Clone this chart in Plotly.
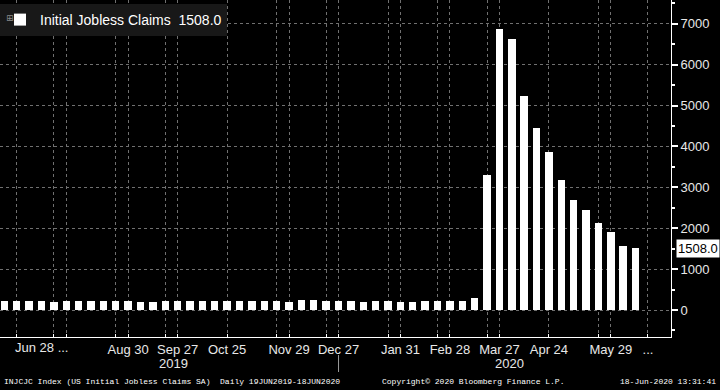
import plotly.graph_objects as go
import pandas as pd

# Weekly initial jobless claims (thousands), bars dated on Fridays
start_date = "2019-06-21"
claims = [227, 221, 209, 216, 206, 215, 209, 220, 209, 215,
          217, 204, 208, 213, 219, 210, 214, 212, 218, 211,
          225, 227, 213, 203, 252, 234, 222, 220, 212, 207,
          223, 216, 201, 206, 211, 219, 216, 211, 282, 3307,
          6867, 6615, 5237, 4442, 3867, 3176, 2687, 2446, 2123, 1897,
          1566, 1508]
dates = pd.date_range(start_date, periods=len(claims), freq="7D")

grid_dates = ["2019-06-28", "2019-07-19", "2019-07-26", "2019-08-23", "2019-08-30",
              "2019-09-20", "2019-09-27", "2019-10-25", "2019-11-22", "2019-11-29",
              "2019-12-20", "2019-12-27", "2020-01-24", "2020-01-31", "2020-02-21",
              "2020-02-28", "2020-03-20", "2020-03-27", "2020-04-24", "2020-05-22",
              "2020-05-29", "2020-06-19"]
grid_labels = ["", "", "", "", "Aug 30",
               "", "Sep 27", "Oct 25", "", "Nov 29",
               "", "Dec 27", "", "Jan 31", "",
               "Feb 28", "", "Mar 27", "Apr 24", "",
               "May 29", "..."]
first_label = "Jun 28 ..."
first_label_date = "2019-06-28"
year_labels = ["2019", "2020"]
x_range = ["2019-06-18 13:00", "2020-07-02 01:00"]
year_sep_date = "2019-12-27"
y_range = [-660, 7580]
last_value = claims[-1]

TXT = "#e8e8e8"
GRID = "#707070"
FONT = "Liberation Sans"
MONO = "Liberation Mono"
PLOT_H = 337

fig = go.Figure()
fig.add_trace(go.Bar(
    x=dates, y=claims,
    width=4.2 * 86400000,
    marker=dict(color="white", line=dict(width=0)),
    name=f"Initial Jobless Claims\u00a0\u00a0{last_value:.1f}",
    showlegend=True,
))

# year labels centred in each year's span of the range
r0 = pd.Timestamp(x_range[0]); r1 = pd.Timestamp(x_range[1])
yb = pd.Timestamp("2020-01-01")
mids = [r0 + (yb - r0) / 2, yb + (r1 - yb) / 2]

annotations = []
for lab, m in zip(year_labels, mids):
    annotations.append(dict(x=m, xref="x", y=-26 / PLOT_H, yref="paper", text=lab,
                            showarrow=False, xanchor="center", yanchor="middle",
                            font=dict(family=FONT, size=13, color=TXT)))
annotations.append(dict(x=first_label_date, xref="x", xshift=25, y=-11 / PLOT_H, yref="paper",
                        text=first_label, showarrow=False, xanchor="center", yanchor="middle",
                        font=dict(family=FONT, size=13, color=TXT)))
annotations.append(dict(x=1, xref="paper", xshift=5, y=last_value, yref="y",
                        text=f"{last_value:.1f}", showarrow=False, xanchor="left",
                        yanchor="middle", bgcolor="white", borderpad=1,
                        font=dict(family=FONT, size=13, color="black")))
annotations.append(dict(x=2 / 671, xref="paper", y=-44 / PLOT_H, yref="paper", xanchor="left",
                        text="INJCJC Index (US Initial Jobless Claims SA)\u00a0\u00a0Daily 19JUN2019-18JUN2020",
                        showarrow=False, yanchor="middle",
                        font=dict(family=MONO, size=8, color="white")))
annotations.append(dict(x=473 / 671, xref="paper", y=-44 / PLOT_H, yref="paper", xanchor="center",
                        text="Copyright\u00a9 2020 Bloomberg Finance L.P.",
                        showarrow=False, yanchor="middle",
                        font=dict(family=MONO, size=8, color="white")))
annotations.append(dict(x=718 / 671, xref="paper", y=-44 / PLOT_H, yref="paper", xanchor="right",
                        text="18-Jun-2020 13:31:41",
                        showarrow=False, yanchor="middle",
                        font=dict(family=MONO, size=8, color="white")))
annotations.append(dict(x=10 / 671, xref="paper", y=1 - 18 / PLOT_H, yref="paper",
                        text="\u229e", showarrow=False, xanchor="center", yanchor="middle",
                        font=dict(family="DejaVu Sans", size=9, color="#8a8a8a")))

fig.update_layout(
    width=720, height=390,
    margin=dict(l=0, r=49, t=0, b=53),
    paper_bgcolor="black", plot_bgcolor="black",
    font=dict(family=FONT, size=13, color=TXT),
    bargap=0,
    showlegend=True,
    legend=dict(x=0, y=1 - 4 / PLOT_H, xanchor="left", yanchor="top",
                bgcolor="#181818", borderwidth=0,
                font=dict(family=FONT, size=14, color="white"),
                itemclick=False),
    annotations=annotations,
    shapes=[dict(type="line", xref="x", x0=year_sep_date, x1=year_sep_date,
                 yref="paper", y0=-18 / PLOT_H, y1=-35 / PLOT_H,
                 line=dict(color="#9a9a9a", width=1))],
    xaxis=dict(type="date", range=x_range,
               tickmode="array", tickvals=grid_dates, ticktext=grid_labels,
               showgrid=True, gridcolor=GRID, griddash="dot", gridwidth=1,
               showline=True, linecolor="white", linewidth=1,
               ticks="inside", ticklen=3, tickcolor="white",
               tickfont=dict(family=FONT, size=13, color=TXT),
               zeroline=False, fixedrange=True),
    yaxis=dict(side="right", range=y_range,
               tickmode="linear", tick0=0, dtick=1000,
               showgrid=True, gridcolor=GRID, griddash="dot", gridwidth=1,
               showline=True, linecolor="white", linewidth=1,
               ticks="outside", ticklen=6, tickwidth=2, tickcolor="white",
               minor=dict(dtick=500, tick0=0, ticks="outside", ticklen=3,
                          tickcolor="white", showgrid=False),
               tickfont=dict(family=FONT, size=13, color=TXT),
               zeroline=False),
)

fig.write_html("out.html", config={"displayModeBar": False},
               post_script="document.body.style.margin='0px';document.body.style.background='black';")
